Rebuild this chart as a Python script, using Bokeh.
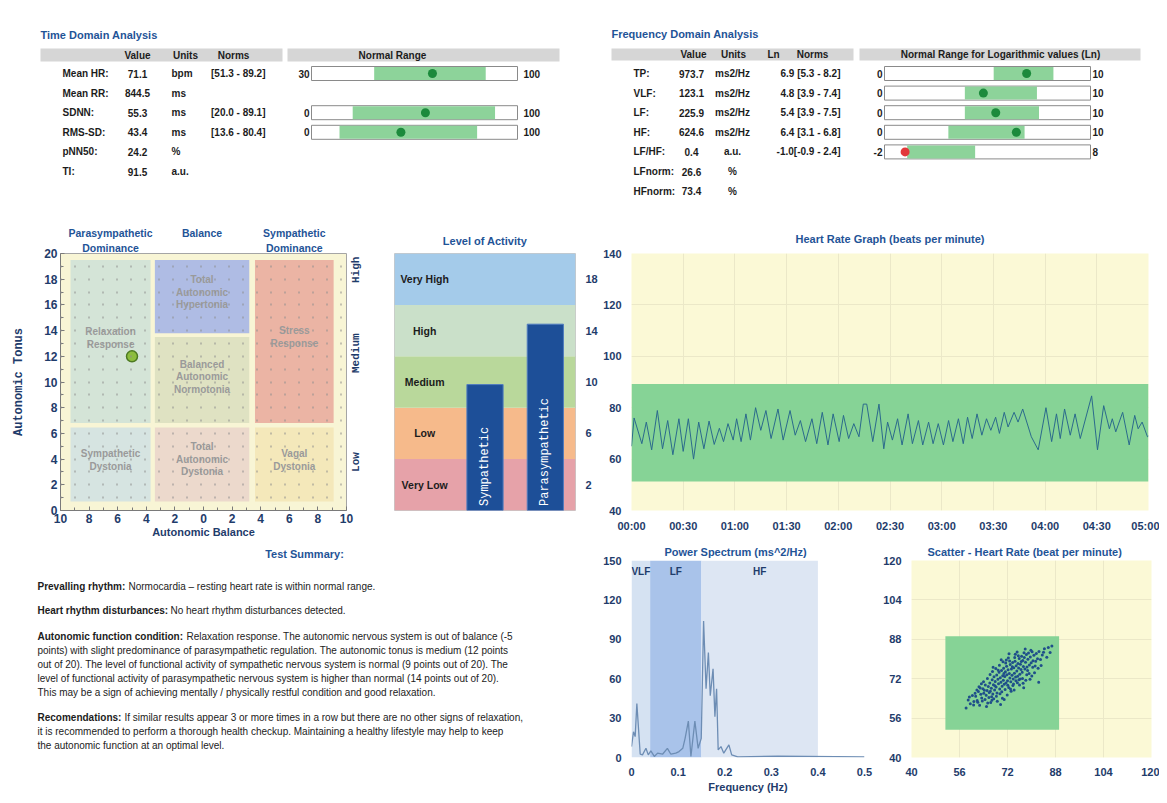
import math
from bokeh.plotting import figure
from bokeh.layouts import column, row
from bokeh.models import Range1d, FactorRange, LinearAxis, FixedTicker, BoxAnnotation, Spacer
from bokeh.core.properties import value
from bokeh.embed import file_html
from bokeh.resources import INLINE

# ======================= DATA =======================
# --- Time domain table ---
td_names = ["Mean HR:", "Mean RR:", "SDNN:", "RMS-SD:", "pNN50:", "TI:"]
td_values = ["71.1", "844.5", "55.3", "43.4", "24.2", "91.5"]
td_units = ["bpm", "ms", "ms", "ms", "%", "a.u."]
td_norms = ["[51.3 - 89.2]", "", "[20.0 - 89.1]", "[13.6 - 80.4]", "", ""]
td_gauge_rows = [0, 2, 3]
td_gauge_val = [71.1, 55.3, 43.4]
td_gauge_lo = [51.3, 20.0, 13.6]
td_gauge_hi = [89.2, 89.1, 80.4]
td_gauge_min = [30, 0, 0]
td_gauge_max = [100, 100, 100]

# --- Frequency domain table ---
fd_names = ["TP:", "VLF:", "LF:", "HF:", "LF/HF:", "LFnorm:", "HFnorm:"]
fd_values = ["973.7", "123.1", "225.9", "624.6", "0.4", "26.6", "73.4"]
fd_units = ["ms2/Hz", "ms2/Hz", "ms2/Hz", "ms2/Hz", "a.u.", "%", "%"]
fd_ln_norms = ["6.9 [5.3 - 8.2]", "4.8 [3.9 - 7.4]", "5.4 [3.9 - 7.5]",
               "6.4 [3.1 - 6.8]", "-1.0[-0.9 - 2.4]", "", ""]
fd_gauge_rows = [0, 1, 2, 3, 4]
fd_gauge_val = [6.9, 4.8, 5.4, 6.4, -1.0]
fd_gauge_lo = [5.3, 3.9, 3.9, 3.1, -0.9]
fd_gauge_hi = [8.2, 7.4, 7.5, 6.8, 2.4]
fd_gauge_min = [0, 0, 0, 0, -2]
fd_gauge_max = [10, 10, 10, 10, 8]

# --- Autonomic balance / tonus map ---
zone_names = ["Relaxation Response", "Total Autonomic Hypertonia", "Stress Response",
              "Balanced Autonomic Normotonia", "Sympathetic Dystonia",
              "Total Autonomic Dystonia", "Vagal Dystonia"]
zone_left = [-9.3, -3.4, 3.6, -3.4, -9.3, -3.4, 3.6]
zone_right = [-3.7, 3.2, 9.1, 3.2, -3.7, 3.2, 9.1]
zone_bottom = [6.8, 13.8, 6.8, 6.8, 0.7, 0.7, 0.7]
zone_top = [19.5, 19.5, 19.5, 13.5, 6.45, 6.45, 6.45]
zone_label_lines = [["Relaxation", "Response"], ["Total", "Autonomic", "Hypertonia"],
                    ["Stress", "Response"], ["Balanced", "Autonomic", "Normotonia"],
                    ["Sympathetic", "Dystonia"], ["Total", "Autonomic", "Dystonia"],
                    ["Vagal", "Dystonia"]]
balance_header_top = ["Parasympathetic", "Balance", "Sympathetic"]
balance_header_bottom = ["Dominance", "", "Dominance"]
balance_ticks = [-10, -8, -6, -4, -2, 0, 2, 4, 6, 8, 10]
balance_minor = [-9, -7, -5, -3, -1, 1, 3, 5, 7, 9]
tonus_ticks = [0, 2, 4, 6, 8, 10, 12, 14, 16, 18, 20]
tonus_minor = [1, 3, 5, 7, 9, 11, 13, 15, 17, 19]
tonus_names = ["Low", "Medium", "High"]
tonus_pos = [3.0, 10.7, 17.7]
subject_balance = [-5]
subject_tonus = [12]

# --- Level of activity ---
level_names = ["Very Low", "Low", "Medium", "High", "Very High"]
level_lo = [0, 4, 8, 12, 16]
level_hi = [4, 8, 12, 16, 20]
level_ticks = [2, 6, 10, 14, 18]
branch_names = ["Sympathetic", "Parasympathetic"]
branch_levels = [9.8, 14.5]

# --- Heart rate graph (seconds, bpm) ---
hr_norm_lo, hr_norm_hi = 51.3, 89.2
hr_points = [
    (0, 65), (1.5, 76), (6, 66), (8.6, 74.4), (11.7, 63.6), (15, 78.9), (18, 64),
    (21, 75), (24, 61.7), (27.5, 75.7), (30, 63), (33, 75.7), (36, 60), (39, 74.4),
    (42, 64), (45, 74.8), (48, 65.7), (51, 72), (53.4, 66.8), (56, 73.8), (59, 67.4),
    (61, 75.7), (63.6, 66.8), (66.4, 77.6), (69, 67.4), (72, 80), (75, 71.2),
    (78, 78.9), (81, 68), (85, 79.5), (88, 67.4), (92, 78.9), (95, 69.3), (98, 75),
    (101, 66.8), (104.7, 75.7), (107.5, 66), (110.7, 78.2), (114, 65.5), (117, 77.6),
    (120.5, 66.8), (123, 77), (126, 68), (129, 73.8), (132, 68.7), (134.5, 81.4),
    (136.5, 81.4), (140, 66.8), (143.6, 81.4), (146.4, 64), (148.6, 74.4),
    (151.4, 67.4), (154.4, 75.7), (157, 65.5), (160.5, 77.6), (163, 66), (166.5, 75),
    (169, 65.5), (172.4, 74.4), (175, 66), (178, 73.8), (181, 65.5), (184, 75),
    (186.5, 66.8), (189.7, 75.7), (192.5, 66), (195, 76.3), (197.7, 68), (200.5, 77.6),
    (203.3, 69.3), (206, 75.7), (208.5, 71.2), (211.3, 76.3), (213.5, 70), (216.3, 78.2),
    (218.5, 72.5), (222, 78.2), (224.3, 74.4), (227, 79.5), (232, 68.7), (236, 63.6),
    (240.5, 80), (243.8, 66.8), (246.6, 77.6), (248.8, 68), (251.3, 79.5), (254.6, 69.3),
    (257.4, 77.6), (260.4, 68), (267, 84.6), (270.4, 63.6), (274, 80.8), (277.3, 71.8),
    (279, 75.7), (281, 70.6), (285, 78.2), (288.8, 65.5), (292, 77), (294, 71.8),
    (296.3, 74.4), (299.4, 68.7), (300, 69)]
hr_ticks = [0, 30, 60, 90, 120, 150, 180, 210, 240, 270, 300]
hr_yticks = [40, 60, 80, 100, 120, 140]

# --- Power spectrum (Hz, ms^2/Hz) ---
band_names = ["VLF", "LF", "HF"]
band_lo = [0.0, 0.04, 0.15]
band_hi = [0.04, 0.15, 0.4]
ps_points = [
    (0.0, 8.3), (0.0043, 19.6), (0.0079, 15.9), (0.0115, 41), (0.0187, 2.5),
    (0.0236, 2), (0.031, 7), (0.036, 2), (0.0415, 5), (0.049, 0.8), (0.056, 3.3),
    (0.0666, 2.5), (0.077, 7), (0.0845, 2.5), (0.095, 3.3), (0.102, 4.5), (0.11, 7),
    (0.115, 14.6), (0.122, 27.7), (0.1275, 0.8), (0.136, 27.7), (0.143, 7),
    (0.1497, 14.6), (0.1547, 104), (0.16, 52.4), (0.165, 80), (0.169, 47),
    (0.175, 67.5), (0.179, 31), (0.1826, 52.4), (0.186, 5.8), (0.192, 8.3),
    (0.198, 3.3), (0.209, 9.6), (0.215, 2), (0.228, 0.5), (0.314, 1), (0.5, 0.5)]
ps_xticks = [0, 0.1, 0.2, 0.3, 0.4, 0.5]
ps_yticks = [0, 30, 60, 90, 120, 150]

# --- Scatter (HR n, HR n+1) ---
scatter_pts = [
    (58.2, 60.1), (58.9, 63.4), (59.6, 61.8), (60.3, 65.2), (60.8, 62.7), (61.4, 64.9),
    (61.9, 63.1), (62.3, 66.8), (62.7, 61.2), (63.1, 65.7), (63.4, 64.2), (63.8, 67.9),
    (64.1, 66.1), (64.5, 63.6), (64.6, 69.4), (64.9, 65.3), (65.2, 67.2), (65.6, 68.8),
    (65.8, 64.4), (66.1, 70.3), (66.3, 66.9), (66.6, 68.1), (66.9, 71.6), (67.1, 65.8),
    (67.3, 69.5), (67.5, 72.8), (67.7, 67.4), (67.9, 70.9), (68.2, 68.6), (68.4, 73.5),
    (68.5, 66.2), (68.8, 71.8), (69.0, 69.9), (69.2, 74.6), (69.4, 67.8), (69.6, 72.4),
    (69.8, 70.6), (70.0, 75.3), (70.2, 68.9), (70.4, 73.2), (70.6, 71.4), (70.7, 76.2),
    (70.9, 69.7), (71.1, 72.9), (71.3, 74.8), (71.5, 70.3), (71.7, 77.1), (71.8, 73.6),
    (72.0, 71.2), (72.2, 75.6), (72.4, 68.4), (72.6, 74.1), (72.8, 72.3), (72.9, 77.8),
    (73.1, 70.8), (73.3, 75.9), (73.5, 73.4), (73.7, 78.6), (73.9, 71.9), (74.1, 76.4),
    (74.3, 74.2), (74.5, 79.1), (74.7, 72.7), (74.9, 77.3), (75.1, 75.1), (75.3, 70.4),
    (75.5, 78.2), (75.7, 76.3), (75.9, 80.2), (76.1, 73.8), (76.3, 77.9), (76.5, 75.7),
    (76.7, 81.1), (76.9, 74.6), (77.1, 79.4), (77.3, 77.0), (77.6, 80.6), (77.8, 75.9),
    (78.0, 78.7), (78.3, 81.8), (78.5, 76.8), (78.8, 79.9), (79.0, 82.4), (79.3, 77.6),
    (79.6, 80.8), (79.9, 78.5), (80.2, 82.9), (80.5, 79.3), (80.8, 81.5), (81.2, 77.2),
    (81.6, 82.2), (82.0, 80.1), (82.5, 83.0), (83.0, 79.8), (83.6, 81.6), (84.3, 84.2),
    (85.1, 80.7), (86.2, 82.6), (82.4, 70.6), (80.1, 73.1), (77.4, 68.3), (75.8, 71.6),
    (73.2, 66.9), (71.9, 65.4), (70.3, 64.1), (68.6, 62.8), (66.4, 62.3), (65.0, 60.7),
    (69.7, 61.5), (73.8, 69.2), (76.2, 71.9), (78.4, 73.6), (64.0, 70.8), (66.2, 73.7),
    (68.1, 76.1), (70.5, 78.9), (72.3, 80.4), (74.6, 81.9), (62.5, 68.7), (67.0, 74.9),
    (69.3, 77.5), (71.6, 79.6), (75.2, 82.8), (77.9, 84.1),
    (60.7, 61.3), (61.2, 66.1), (62.1, 62.4), (62.9, 68.2), (63.6, 62.9), (64.3, 67.3),
    (65.4, 62.1), (65.9, 66.4), (66.7, 64.7), (67.4, 63.9), (67.8, 69.1), (68.3, 64.9),
    (68.9, 75.4), (69.5, 65.9), (70.1, 66.7), (70.8, 74.1), (71.2, 67.6), (71.4, 78.4),
    (72.1, 69.3), (72.7, 79.2), (73.0, 67.8), (73.6, 76.9), (74.0, 69.8), (74.4, 80.6),
    (74.8, 71.2), (75.4, 73.0), (75.6, 81.3), (76.0, 69.4), (76.6, 79.0), (77.0, 72.1),
    (77.5, 82.5), (78.1, 71.4), (78.7, 75.3), (79.2, 74.1), (79.8, 83.6), (80.4, 76.6),
    (81.0, 74.4), (81.4, 79.1), (82.2, 76.2), (83.2, 77.4), (84.0, 82.7), (85.6, 84.7),
    (86.8, 85.3), (59.3, 64.6), (61.8, 67.4), (63.3, 69.9), (65.3, 72.1), (67.2, 76.6),
    (69.9, 79.7), (72.5, 82.1), (66.8, 63.2), (70.9, 63.6), (74.2, 67.4), (77.2, 70.2),
    (79.5, 71.8)]
scatter_ticks = [40, 56, 72, 88, 104, 120]

# --- Test summary ---
summary_title = "Test Summary:"
summary_heads = ["Prevalling rhythm:", "Heart rhythm disturbances:",
                 "Autonomic function condition:", "Recomendations:"]
summary_bodies = [
    ["Normocardia \u2013 resting heart rate is within normal range."],
    ["No heart rhythm disturbances detected."],
    ["Relaxation response. The autonomic nervous system is out of balance (-5",
     "points) with slight predominance of parasympathetic regulation. The autonomic tonus is medium (12 points",
     "out of 20). The level of functional activity of sympathetic nervous system is normal (9 points out of 20). The",
     "level of functional activity of parasympathetic nervous system is higher than normal (14 points out of 20).",
     "This may be a sign of achieving mentally / physically restful condition and good relaxation."],
    ["If similar results appear 3 or more times in a row but there are no other signs of relaxation,",
     "it is recommended to perform a thorough health checkup. Maintaining a healthy lifestyle may help to keep",
     "the autonomic function at an optimal level."]]

# ======================= STYLE / LAYOUT =======================
SANS = "Liberation Sans"
MONO = "Liberation Mono"
NAVY = "#1f3c6b"
TBLUE = "#1f5497"
INK = "#1c1c1c"
GREEN = "#8dd39a"
DOT_OK = "#1c8a3c"
DOT_BAD = "#e2393a"
YELLOW = "#fbf9d6"
zone_colors = ["#d4e4d7", "#afbce4", "#ebb4a4", "#dfe2c2", "#d6e4e1", "#ecd9cc", "#f4e8ba"]
level_colors = ["#e6a2a9", "#f6ba8b", "#b9d89b", "#cae0c9", "#a4cbea"]
band_colors = ["#d5e2f2", "#a9c3ea", "#dde6f3"]
ROW_Y0, ROW_DY = 73, 19.6
B_TOP, B_BOT = 53, 29      # shared borders of the middle row
C_TOP, C_BOT = 20, 36      # shared borders of the bottom row


def canvas(x0, y0, w, h, top=0, bottom=0):
    p = figure(width=w, height=h, x_range=Range1d(x0, x0 + w),
               y_range=Range1d(y0 + h - bottom, y0 + top),
               x_axis_location=None, y_axis_location=None, min_border=0,
               min_border_top=top, min_border_bottom=bottom,
               outline_line_color=None, output_backend="svg", toolbar_location=None)
    p.grid.visible = False
    return p


def txt(p, xs, ys, texts, size="10px", style="bold", color=INK, align="left", font=SANS, angle=0):
    p.text(x=xs, y=ys, text=texts, text_font=value(font), text_font_size=size,
           text_font_style=style, text_color=color, text_align=align,
           text_baseline="middle", angle=angle)


def gauge(p, y, v, lo, hi, smin, smax, x0, w, hi_label_x):
    def gx(a):
        return x0 + (a - smin) / (smax - smin) * w
    p.quad(left=[x0], right=[x0 + w], top=[y - 7], bottom=[y + 7],
           fill_color="white", line_color="#8a8a8a", line_width=1)
    p.quad(left=[gx(lo)], right=[gx(hi)], top=[y - 6.5], bottom=[y + 6.5],
           fill_color=GREEN, line_color=None)
    dot = DOT_OK if lo <= v <= hi else DOT_BAD
    p.scatter(x=[gx(v)], y=[y], size=9, fill_color=dot, line_color=None)
    txt(p, [x0 - 2], [y], [str(smin)], align="right")
    txt(p, [hi_label_x], [y], [str(smax)], align="left")


def style_axes(p, size="11px", show_line=False):
    for ax in p.axis:
        ax.major_label_text_font = SANS
        ax.major_label_text_font_style = "bold"
        ax.major_label_text_font_size = size
        ax.major_label_text_color = NAVY
        ax.axis_label_text_font = SANS
        ax.axis_label_text_font_style = "bold"
        ax.axis_label_text_font_size = "11px"
        ax.axis_label_text_color = NAVY
        ax.major_label_standoff = 4
        if not show_line:
            ax.axis_line_color = None
            ax.major_tick_line_color = None
            ax.minor_tick_line_color = None


def style_title(p, align="center", offset=0, standoff=5):
    p.title.text_font = SANS
    p.title.text_font_style = "bold"
    p.title.text_font_size = "11px"
    p.title.text_color = TBLUE
    p.title.align = align
    p.title.offset = offset
    p.title.standoff = standoff


def header_axis(ticks, labels):
    return LinearAxis(ticker=FixedTicker(ticks=ticks),
                      major_label_overrides=dict(zip(ticks, labels)),
                      axis_line_color=None, major_tick_line_color=None,
                      minor_tick_line_color=None, major_tick_out=0, major_tick_in=0,
                      major_label_standoff=0, major_label_text_font=SANS,
                      major_label_text_font_style="bold", major_label_text_font_size="10.5px",
                      major_label_text_color=TBLUE)


# ---------------- Time domain table ----------------
t1 = canvas(8, 8, 577, 192)
txt(t1, [40], [34], ["Time Domain Analysis"], size="11px", color=TBLUE)
t1.quad(left=[40, 287], right=[282, 559], top=[48, 48], bottom=[61, 61],
        fill_color="#d6d6d6", line_color=None)
txt(t1, [137, 185, 233, 392], [54.5] * 4, ["Value", "Units", "Norms", "Normal Range"], align="center")
ys = [ROW_Y0 + i * ROW_DY for i in range(len(td_names))]
txt(t1, [62] * len(ys), ys, td_names)
txt(t1, [137] * len(ys), ys, td_values, align="center")
txt(t1, [171] * len(ys), ys, td_units)
txt(t1, [265] * len(ys), ys, td_norms, align="right")
for r, v, lo, hi, a, b in zip(td_gauge_rows, td_gauge_val, td_gauge_lo, td_gauge_hi,
                              td_gauge_min, td_gauge_max):
    gauge(t1, ys[r], v, lo, hi, a, b, 311, 206, 523)

# ---------------- Frequency domain table ----------------
t2 = canvas(585, 8, 574, 192)
txt(t2, [611], [33], ["Frequency Domain Analysis"], size="11px", color=TBLUE)
t2.quad(left=[611, 859], right=[853, 1140], top=[48, 48], bottom=[60, 60],
        fill_color="#d6d6d6", line_color=None)
txt(t2, [693, 733, 773, 812, 1000], [54] * 5,
    ["Value", "Units", "Ln", "Norms", "Normal Range for Logarithmic values (Ln)"], align="center")
ys2 = [ROW_Y0 + i * ROW_DY for i in range(len(fd_names))]
txt(t2, [633] * len(ys2), ys2, fd_names)
txt(t2, [691] * len(ys2), ys2, fd_values, align="center")
txt(t2, [732] * len(ys2), ys2, fd_units, align="center")
txt(t2, [840] * len(ys2), ys2, fd_ln_norms, align="right")
for r, v, lo, hi, a, b in zip(fd_gauge_rows, fd_gauge_val, fd_gauge_lo, fd_gauge_hi,
                              fd_gauge_min, fd_gauge_max):
    gauge(t2, ys2[r], v, lo, hi, a, b, 884, 206, 1092)

# ---------------- Autonomic balance map ----------------
q = figure(width=364, height=340, x_range=Range1d(-10, 10), y_range=Range1d(0, 20),
           min_border_left=52, min_border_right=26, min_border_top=B_TOP, min_border_bottom=B_BOT,
           background_fill_color="#f8f5d5", outline_line_color="#a5a5a5",
           output_backend="svg", toolbar_location=None)
q.quad(left=zone_left, right=zone_right, bottom=zone_bottom, top=zone_top,
       fill_color=zone_colors, line_color=None)
zone_label_top = [13.9, 18.0, 14.0, 11.4, 4.4, 5.0, 4.45]
lx, ly, lt = [], [], []
for lines, l, r, top in zip(zone_label_lines, zone_left, zone_right, zone_label_top):
    for k, line in enumerate(lines):
        lx.append((l + r) / 2)
        ly.append(top - k)
        lt.append(line)
txt(q, lx, ly, lt, size="10px", color="#9a9a9a", align="center")
q.scatter(x=subject_balance, y=subject_tonus, size=11, fill_color="#8dbd3e",
          line_color="#4d7a22", line_width=1.5)
q.xgrid.visible = False
q.ygrid.ticker = FixedTicker(ticks=tonus_minor + tonus_ticks[1:-1])
q.ygrid.grid_line_color = "#8d8d8d"
q.ygrid.grid_line_dash = "1 13"
q.ygrid.grid_line_width = 2
q.ygrid.level = "guide"
q.xaxis.ticker = FixedTicker(ticks=balance_ticks, minor_ticks=balance_minor)
q.xaxis.major_label_overrides = {t: str(abs(t)) for t in balance_ticks}
q.xaxis.axis_label = "Autonomic Balance"
q.yaxis.ticker = FixedTicker(ticks=tonus_ticks, minor_ticks=tonus_minor)
q.yaxis.axis_label = "Autonomic Tonus"
style_axes(q, size="12px", show_line=True)
for ax in q.axis:
    ax.axis_line_color = "#7a7a7a"
    ax.major_tick_line_color = "#7a7a7a"
    ax.minor_tick_line_color = "#7a7a7a"
    ax.major_tick_in = 4
    ax.major_tick_out = 0
    ax.minor_tick_in = 3
    ax.minor_tick_out = 0
    ax.major_label_standoff = 3
q.xaxis.axis_label_standoff = 0
q.yaxis.axis_label_standoff = 15
q.yaxis.axis_label_text_font = MONO
q.yaxis.axis_label_text_font_size = "12px"
tonus_axis = LinearAxis(ticker=FixedTicker(ticks=tonus_pos),
                        major_label_overrides=dict(zip(tonus_pos, tonus_names)),
                        major_label_orientation=math.pi / 2,
                        axis_line_color=None, major_tick_line_color=None,
                        minor_tick_line_color=None, major_label_standoff=4,
                        major_label_text_font=MONO, major_label_text_font_style="bold",
                        major_label_text_font_size="11px", major_label_text_color=NAVY)
q.add_layout(tonus_axis, "right")
header_x = [(l + r) / 2 for l, r in zip(zone_left[:3], zone_right[:3])]
q.add_layout(header_axis([header_x[0], header_x[2]],
                         [balance_header_bottom[0], balance_header_bottom[2]]), "above")
q.add_layout(header_axis(header_x, balance_header_top), "above")

# ---------------- Level of activity ----------------
factors = ["lvl"] + branch_names
lv = figure(width=228, height=340, x_range=FactorRange(factors=factors), y_range=Range1d(0, 20),
            min_border_left=22, min_border_right=18, min_border_top=B_TOP, min_border_bottom=B_BOT,
            x_axis_location=None, y_axis_location="right", title="Level of Activity",
            outline_line_color="#c8c8c8", output_backend="svg", toolbar_location=None)
for lo, hi, c in zip(level_lo, level_hi, level_colors):
    lv.add_layout(BoxAnnotation(bottom=lo, top=hi, fill_color=c, fill_alpha=1,
                                line_color=None, level="underlay"))
txt(lv, ["lvl"] * len(level_names), [(a + b) / 2 for a, b in zip(level_lo, level_hi)],
    level_names, size="10.5px", align="center")
lv.vbar(x=branch_names, top=branch_levels, width=0.6, fill_color="#1d4f98", line_color="#4f7cbf")
txt(lv, branch_names, [0.35] * 2, branch_names, size="12px", style="normal", color="white",
    align="left", font=MONO, angle=math.pi / 2)
lv.grid.visible = False
lv.yaxis.ticker = FixedTicker(ticks=level_ticks)
style_axes(lv)
style_title(lv, standoff=13)

# ---------------- Heart rate graph ----------------
hr = figure(width=559, height=340, x_range=Range1d(0, 300), y_range=Range1d(40, 140),
            min_border_left=28, min_border_right=11, min_border_top=B_TOP, min_border_bottom=B_BOT,
            title="Heart Rate Graph (beats per minute)", background_fill_color=YELLOW,
            outline_line_color=None, output_backend="svg", toolbar_location=None)
hr.add_layout(BoxAnnotation(bottom=hr_norm_lo, top=hr_norm_hi, fill_color="#86d396",
                            fill_alpha=1, line_color=None, level="underlay"))
hr_time = [t for t, _ in hr_points]
hr_bpm = [b for _, b in hr_points]
hr.line(hr_time, hr_bpm, line_color="#2b6a8c", line_width=1)
hr.xaxis.ticker = FixedTicker(ticks=hr_ticks)
hr.xaxis.major_label_overrides = {t: "%02d:%02d" % (t // 60, t % 60) for t in hr_ticks}
hr.yaxis.ticker = FixedTicker(ticks=hr_yticks)
hr.grid.grid_line_color = "#ebe8c8"
style_axes(hr)
hr.xaxis.major_label_standoff = 3
style_title(hr, standoff=17)

# ---------------- Summary ----------------
s = canvas(8, 540, 592, 255, top=C_TOP, bottom=C_BOT)
s.title.text = summary_title
style_title(s, standoff=1)
head_y = [586, 611, 637, 719]
body_x0 = [128, 170, 186, 124]
LINE = 14
hx_, hy_, ht_, bx_, by_, bt_ = [], [], [], [], [], []
for head, body, y0, x0 in zip(summary_heads, summary_bodies, head_y, body_x0):
    hx_.append(37)
    hy_.append(y0)
    ht_.append(head)
    for k, line in enumerate(body):
        bx_.append(x0 if k == 0 else 37)
        by_.append(y0 + k * LINE)
        bt_.append(line)
txt(s, hx_, hy_, ht_, size="10px")
txt(s, bx_, by_, bt_, size="10px", style="normal", color="#222222")

# ---------------- Power spectrum ----------------
ps = figure(width=280, height=255, x_range=Range1d(0, 0.5), y_range=Range1d(0, 150),
            min_border_left=30, min_border_right=16, min_border_top=C_TOP, min_border_bottom=C_BOT,
            title="Power Spectrum (ms^2/Hz)", x_axis_label="Frequency (Hz)",
            outline_line_color=None, output_backend="svg", toolbar_location=None)
for lo, hi, c in zip(band_lo, band_hi, band_colors):
    ps.add_layout(BoxAnnotation(left=lo, right=hi, fill_color=c, fill_alpha=1,
                                line_color=None, level="underlay"))
txt(ps, [(a + b) / 2 for a, b in zip(band_lo, band_hi)], [142] * 3, band_names,
    size="10px", color=NAVY, align="center")
ps.line([f for f, _ in ps_points], [v for _, v in ps_points], line_color="#6d8db4", line_width=1.3)
ps.grid.visible = False
ps.xaxis.ticker = FixedTicker(ticks=ps_xticks)
ps.yaxis.ticker = FixedTicker(ticks=ps_yticks)
style_axes(ps)
ps.xaxis.axis_label_standoff = 2
style_title(ps, align="left", offset=33, standoff=6)

# ---------------- Scatter ----------------
sc = figure(width=279, height=255, x_range=Range1d(40, 120), y_range=Range1d(40, 120),
            min_border_left=27, min_border_right=8, min_border_top=C_TOP, min_border_bottom=C_BOT,
            title="Scatter - Heart Rate (beat per minute)", background_fill_color=YELLOW,
            outline_line_color=None, output_backend="svg", toolbar_location=None)
sc.add_layout(BoxAnnotation(left=hr_norm_lo, right=hr_norm_hi, bottom=hr_norm_lo, top=hr_norm_hi,
                            fill_color="#86d396", fill_alpha=1, line_color=None, level="underlay"))
sc.scatter([a for a, _ in scatter_pts], [b for _, b in scatter_pts], size=3,
           fill_color="#1f4f8a", line_color=None)
sc.xaxis.ticker = FixedTicker(ticks=scatter_ticks)
sc.yaxis.ticker = FixedTicker(ticks=scatter_ticks)
sc.grid.grid_line_color = "#ebe8c8"
style_axes(sc)
style_title(sc, align="left", offset=16, standoff=6)

inner = column(row(t1, t2), row(q, lv, hr), row(s, ps, sc))
layout = column(Spacer(height=8), row(Spacer(width=8), inner))
open("out.html", "w").write(file_html(layout, INLINE, "HRV report"))
